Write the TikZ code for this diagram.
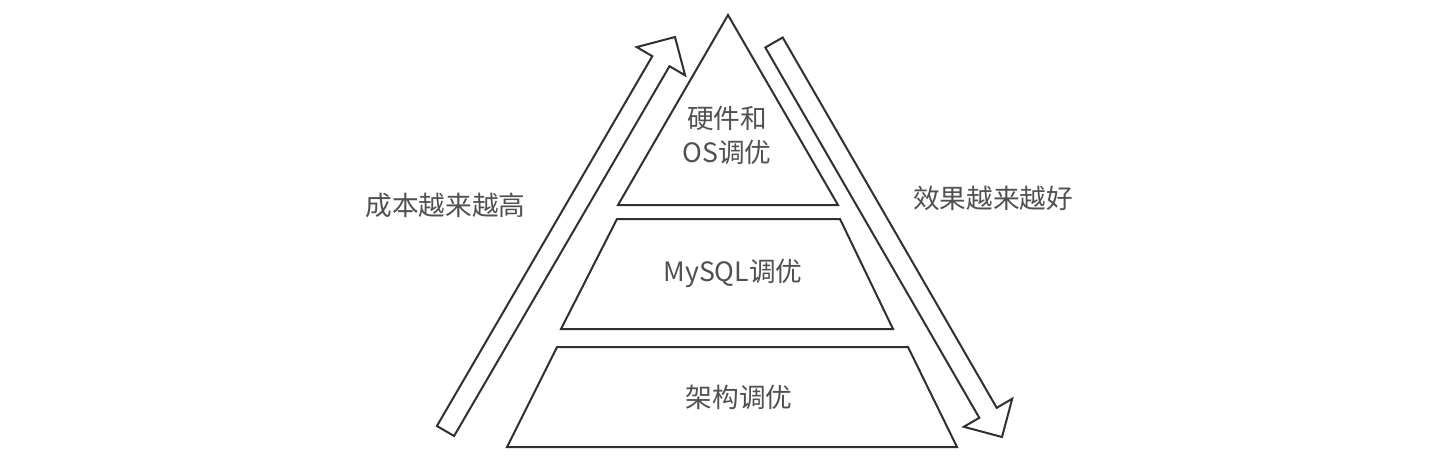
\documentclass[tikz,border=0pt]{standalone}
\usepackage{fontspec}
\newfontfamily\cjk{Noto Sans CJK SC}
\definecolor{linec}{RGB}{48,48,48}
\definecolor{textc}{RGB}{80,80,80}
\begin{document}
\begin{tikzpicture}[x=0.75pt,y=-0.75pt,
  layer/.style={draw=linec, line width=1.5pt, line join=miter},
  blockarrow/.style={draw=linec, line width=1.5pt, fill=white, line join=miter},
  lbl/.style={font=\cjk\fontsize{20}{25.5}\selectfont, text=textc, inner sep=0pt, align=center}]
\useasboundingbox[fill=white] (0,0) rectangle (1454,461);
% pyramid layers
\draw[layer] (728,15) -- (838,205) -- (618,205) -- cycle;
\draw[layer] (617,219) -- (840,219) -- (893,329) -- (561,329) -- cycle;
\draw[layer] (557,347) -- (908,347) -- (957,447) -- (507,447) -- cycle;
% block arrows
\draw[blockarrow] (436.9,426) -- (652.3,56.2) -- (636.7,47.1) -- (675,37) -- (685.1,75.3) -- (669.5,66.2) -- (454.1,436) -- cycle;
\draw[blockarrow] (765.3,47.5) -- (979.3,417.8) -- (963.8,426.8) -- (1002,437) -- (1012.2,398.8) -- (996.7,407.8) -- (782.7,37.5) -- cycle;
% labels
\node[lbl] (hw) at (727,135) {硬件和\\OS调优};
\node[lbl] (mysql) at (733,273) {MySQL调优};
\node[lbl] (arch) at (739,397) {架构调优};
\node[lbl] (cost) at (445.5,205.5) {成本越来越高};
\node[lbl] (effect) at (993,198.5) {效果越来越好};
\end{tikzpicture}
\end{document}
